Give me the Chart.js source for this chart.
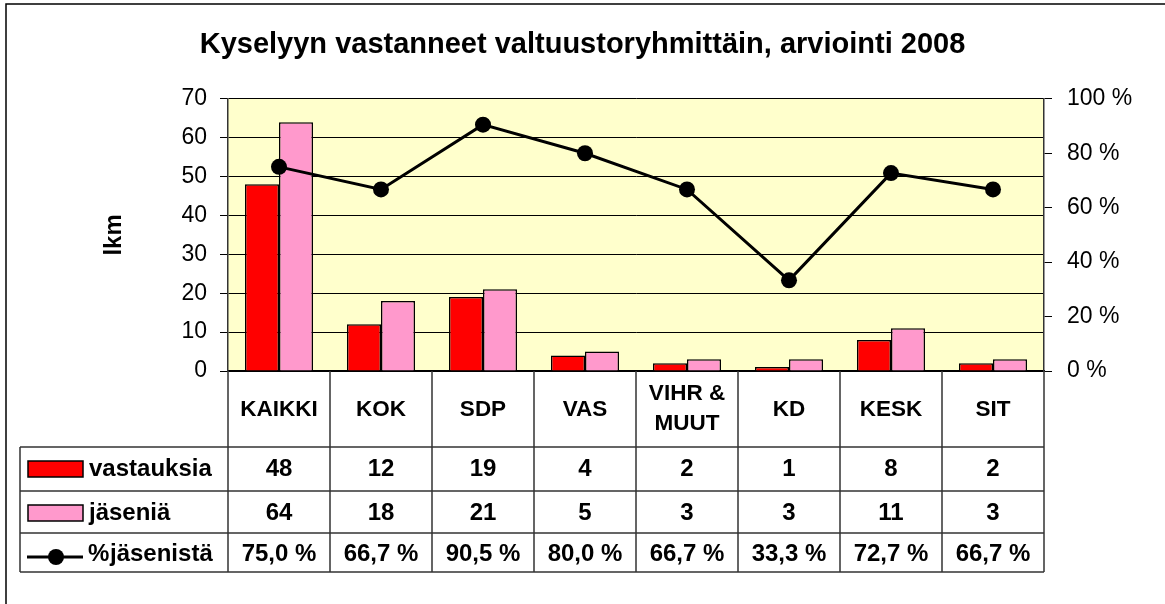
<!DOCTYPE html>
<html>
<head>
<meta charset="utf-8">
<script src="https://cdn.jsdelivr.net/npm/chart.js@4.4.1/dist/chart.umd.min.js"></script>
<style>
  html, body { margin: 0; padding: 0; background: #fff; }
  #wrap { width: 1165px; height: 604px; position: relative; }
</style>
</head>
<body>
<div id="wrap"><canvas id="chart"></canvas></div>
<script>
const categories = ['KAIKKI', 'KOK', 'SDP', 'VAS', ['VIHR &', 'MUUT'], 'KD', 'KESK', 'SIT'];
const vastauksia = [48, 12, 19, 4, 2, 1, 8, 2];
const jasenia = [64, 18, 21, 5, 3, 3, 11, 3];
const osuus = [75.0, 66.7, 90.5, 80.0, 66.7, 33.3, 72.7, 66.7];
const seriesNames = ['vastauksia', 'jäseniä', '% jäsenistä'];
const leftMax = 70, leftStep = 10;
const rightMax = 100, rightStep = 20;

const FONT = '"Liberation Sans", Arial, sans-serif';

function pct(v) {
  return v.toFixed(1).replace('.', ',') + ' %';
}

// plot background and outer frame
const backdrop = {
  id: 'backdrop',
  beforeDraw(chart) {
    const { ctx, chartArea: a } = chart;
    ctx.save();
    ctx.fillStyle = '#FFFFCC';
    ctx.fillRect(a.left, a.top, a.right - a.left, a.bottom - a.top);
    ctx.strokeStyle = '#000';
    ctx.lineWidth = 1.5;
    ctx.strokeRect(6, 4, 1200, 700);
    ctx.restore();
  }
};

// Excel style data table under the plot
const dataTable = {
  id: 'dataTable',
  afterDraw(chart) {
    const { ctx, chartArea: a } = chart;
    const xs = chart.scales.x;
    const n = categories.length;
    const colW = xs.width / n;
    const top = a.bottom;
    const rowY = [top, top + 76, top + 120, top + 162, top + 201];
    const legendLeft = 20;

    ctx.save();
    ctx.strokeStyle = '#333';
    ctx.lineWidth = 1.5;
    ctx.beginPath();
    for (let i = 0; i <= n; i++) {
      const x = Math.round(xs.left + i * colW);
      ctx.moveTo(x, rowY[0]);
      ctx.lineTo(x, rowY[4]);
    }
    ctx.moveTo(legendLeft, rowY[1]);
    ctx.lineTo(legendLeft, rowY[4]);
    for (let r = 1; r < rowY.length; r++) {
      ctx.moveTo(legendLeft, rowY[r]);
      ctx.lineTo(xs.right, rowY[r]);
    }
    ctx.stroke();

    ctx.fillStyle = '#000';
    ctx.textAlign = 'center';
    ctx.textBaseline = 'middle';
    ctx.font = 'bold 22.5px ' + FONT;
    const headMid = (rowY[0] + rowY[1]) / 2;
    categories.forEach((c, i) => {
      const x = xs.getPixelForValue(i);
      if (Array.isArray(c)) {
        ctx.fillText(c[0], x, headMid - 15);
        ctx.fillText(c[1], x, headMid + 15);
      } else {
        ctx.fillText(c, x, headMid + 1);
      }
    });

    const rows = [vastauksia.map(String), jasenia.map(String), osuus.map(pct)];
    const mids = [rowY[1] + 22, rowY[2] + 22, rowY[3] + 21];
    ctx.font = 'bold 24px ' + FONT;
    rows.forEach((vals, r) => {
      vals.forEach((v, i) => ctx.fillText(v, xs.getPixelForValue(i), mids[r]));
    });

    // legend keys
    ctx.lineWidth = 1.5;
    ctx.strokeStyle = '#000';
    ctx.fillStyle = '#FF0000';
    ctx.fillRect(28, mids[0] - 8, 55, 16);
    ctx.strokeRect(28, mids[0] - 8, 55, 16);
    ctx.fillStyle = '#FF99CC';
    ctx.fillRect(28, mids[1] - 8, 55, 16);
    ctx.strokeRect(28, mids[1] - 8, 55, 16);
    ctx.lineWidth = 3;
    ctx.beginPath();
    ctx.moveTo(27, mids[2] + 3);
    ctx.lineTo(83, mids[2] + 3);
    ctx.stroke();
    ctx.fillStyle = '#000';
    ctx.beginPath();
    ctx.arc(56, mids[2] + 3, 8, 0, Math.PI * 2);
    ctx.fill();

    ctx.textAlign = 'left';
    ctx.font = 'bold 24px ' + FONT;
    ctx.fillText(seriesNames[0], 89, mids[0]);
    ctx.fillText(seriesNames[1], 89, mids[1]);
    ctx.fillText('%', 88, mids[2]);
    ctx.fillText('jäsenistä', 110, mids[2]);
    ctx.restore();
  }
};

new Chart(document.getElementById('chart'), {
  data: {
    labels: categories,
    datasets: [
      {
        type: 'line',
        label: seriesNames[2],
        data: osuus,
        yAxisID: 'y1',
        borderColor: '#000',
        backgroundColor: '#000',
        borderWidth: 3,
        pointRadius: 8,
        pointBackgroundColor: '#000',
        pointBorderWidth: 0,
        tension: 0,
        order: 0
      },
      {
        type: 'bar',
        label: seriesNames[0],
        data: vastauksia,
        yAxisID: 'y',
        backgroundColor: '#FF0000',
        borderColor: '#000',
        borderWidth: 1.5,
        barPercentage: 1,
        categoryPercentage: 0.667,
        order: 1
      },
      {
        type: 'bar',
        label: seriesNames[1],
        data: jasenia,
        yAxisID: 'y',
        backgroundColor: '#FF99CC',
        borderColor: '#000',
        borderWidth: 1.5,
        barPercentage: 1,
        categoryPercentage: 0.667,
        order: 1
      }
    ]
  },
  options: {
    responsive: true,
    maintainAspectRatio: false,
    animation: false,
    layout: { padding: { left: 0, right: 0, top: 0, bottom: 233 } },
    plugins: {
      legend: { display: false },
      tooltip: { enabled: false },
      title: {
        display: true,
        text: 'Kyselyyn vastanneet valtuustoryhmittäin, arviointi 2008',
        color: '#000',
        font: { family: FONT, size: 29, weight: 'bold' },
        padding: { top: 28, bottom: 36 }
      }
    },
    scales: {
      x: {
        type: 'category',
        ticks: { display: false },
        grid: { display: false },
        border: { display: true, color: '#000', width: 1.5 },
        afterFit(s) { s.height = 0; }
      },
      y: {
        position: 'left',
        min: 0,
        max: leftMax,
        ticks: { stepSize: leftStep, color: '#000', padding: 13, font: { family: FONT, size: 23 } },
        grid: { color: '#000', lineWidth: 1, tickLength: 8 },
        border: { color: '#333', width: 1.5 },
        title: {
          display: true,
          text: 'lkm',
          color: '#000',
          font: { family: FONT, size: 24, weight: 'bold' },
          padding: { top: 100, bottom: 0 }
        },
        afterFit(s) { s.width = 228; }
      },
      y1: {
        position: 'right',
        min: 0,
        max: rightMax,
        ticks: {
          stepSize: rightStep,
          color: '#000',
          padding: 15,
          font: { family: FONT, size: 23 },
          callback: v => v + ' %'
        },
        grid: { drawOnChartArea: false, color: '#000', tickLength: 8 },
        border: { color: '#333', width: 1.5 },
        afterFit(s) { s.width = 121; }
      }
    }
  },
  plugins: [backdrop, dataTable]
});
</script>
</body>
</html>
